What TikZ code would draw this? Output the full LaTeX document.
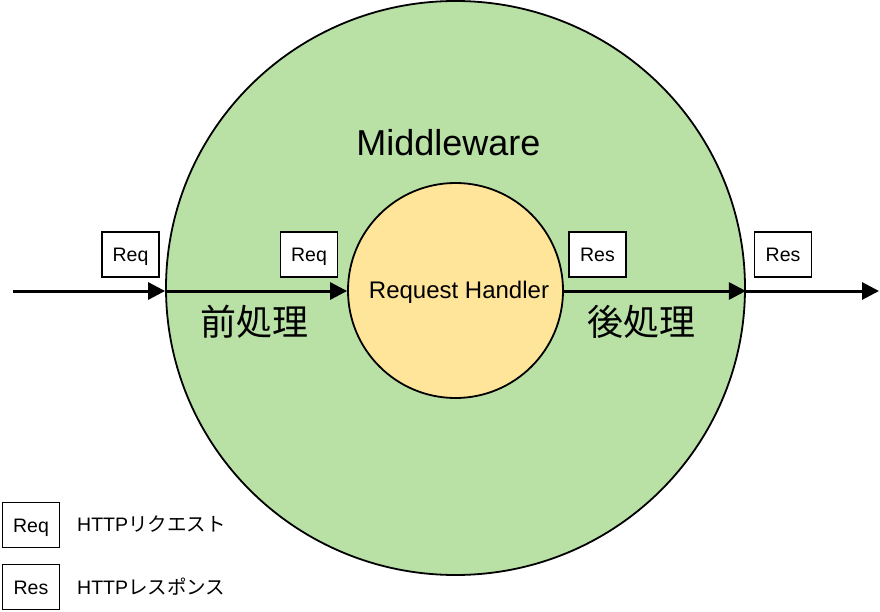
\documentclass[tikz,border=0pt]{standalone}
\usepackage{fontspec}
\setmainfont{Liberation Sans}
\newfontfamily\cjk{Noto Sans CJK JP}
\usetikzlibrary{shapes.geometric,arrows.meta}
\definecolor{mwgreen}{HTML}{B9E0A5}
\definecolor{rhyellow}{HTML}{FFE599}
\begin{document}
\begin{tikzpicture}[x=1pt,y=-1pt,
  flow/.style={line width=3pt,-{Triangle[length=17pt,width=17pt]}},
  msgbox/.style={draw=black,fill=white,line width=1.8pt,minimum width=57pt,minimum height=45pt,inner sep=0pt,text height=14pt,text depth=0pt,font=\fontsize{19.5}{22}\selectfont},
  legtext/.style={anchor=west,inner sep=0pt,font=\fontsize{19.5}{22}\selectfont},
  jptext/.style={inner sep=0pt,font=\cjk\fontsize{36}{40}\selectfont}]
\useasboundingbox (0,0) rectangle (880,612);
\node[ellipse,draw=black,fill=mwgreen,line width=1.8pt,inner sep=0pt,minimum width=579pt,minimum height=574pt] (mw) at (455.5,288) {};
\node[circle,draw=black,fill=rhyellow,line width=1.8pt,inner sep=0pt,minimum size=215pt] (rh) at (455.5,290.5) {};
\node[anchor=base,inner sep=0pt,font=\fontsize{36}{40}\selectfont] (mwlabel) at (448.5,156) {Middleware};
\node[anchor=base,inner sep=0pt,font=\fontsize{24}{28}\selectfont] (rhlabel) at (459,298.5) {Request Handler};
\coordinate (start) at (13,291);
\coordinate (finish) at (879,291);
\draw[flow] (start) -- (start -| mw.west);
\draw[flow] (start -| mw.west) -- (start -| rh.west);
\draw[flow] (start -| rh.east) -- (start -| mw.east);
\draw[flow] (start -| mw.east) -- (finish);
\node[msgbox] (req1) at (130.5,254.5) {Req};
\node[msgbox] (req2) at (309,254.5) {Req};
\node[msgbox] (res1) at (597.5,254.5) {Res};
\node[msgbox] (res2) at (783,254.5) {Res};
\node[jptext] (pre) at (254.7,321.5) {前処理};
\node[jptext] (post) at (641,321.5) {後処理};
\node[msgbox] (legreq) at (31,525) {Req};
\node[msgbox] (legres) at (31,587) {Res};
\node[legtext] (legreqt) at (77,524) {HTTP{\cjk リクエスト}};
\node[legtext] (legrest) at (77,587) {HTTP{\cjk レスポンス}};
\end{tikzpicture}
\end{document}
